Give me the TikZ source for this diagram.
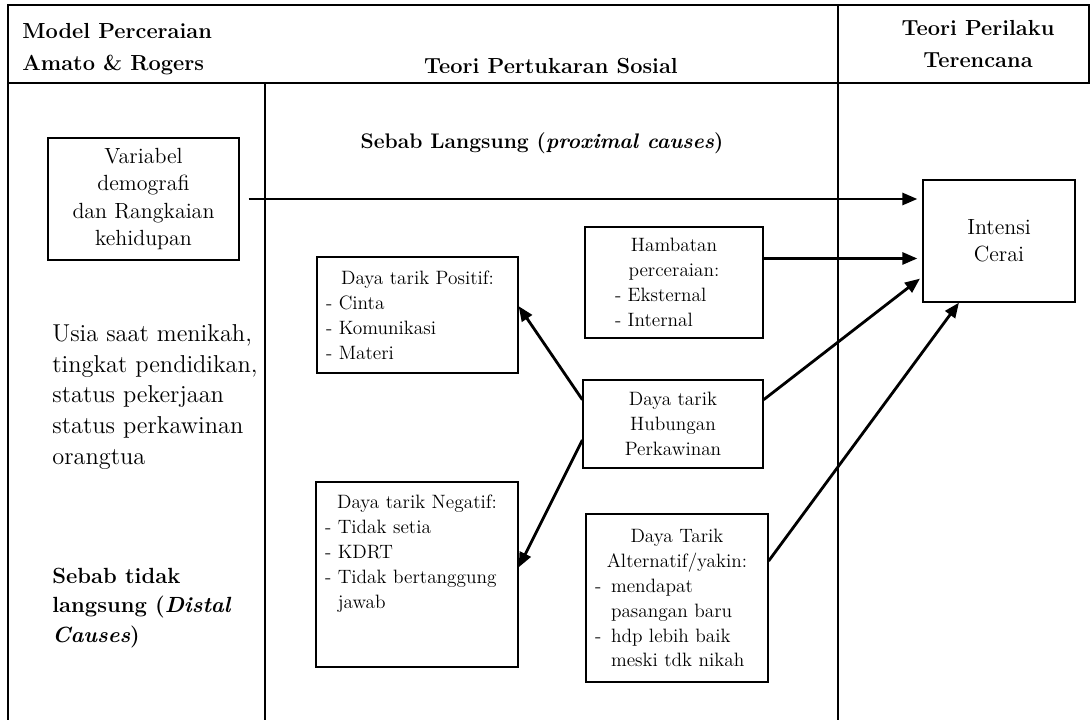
\documentclass[tikz,border=0pt]{standalone}
\usepackage{tikz}
\usetikzlibrary{arrows.meta, positioning}

\newcommand{\ctrline}[1]{\hskip0pt plus1filll #1\hskip0pt plus1filll\null}

\begin{document}
\begin{tikzpicture}[
  x=0.02cm, y=-0.02cm,
  box/.style={draw, line width=0.75pt, inner sep=0pt, align=center,
              font=\fontsize{11}{14.2}\selectfont},
  bigbox/.style={box, font=\fontsize{12.5}{15.5}\selectfont},
  listbox/.style={box, align=left},
  head/.style={font=\fontsize{12.4}{18.5}\selectfont\bfseries, inner sep=0pt},
  note/.style={anchor=west, align=left, inner sep=0pt},
  frame/.style={line width=1.1pt},
  divider/.style={line width=1.7pt},
  arr/.style={-{Triangle[length=3mm, width=2.4mm]}, line width=1.6pt}
]
  \useasboundingbox (0,0) rectangle (1090,720);

  % table lines
  \draw[frame] (8,5) rectangle (1089,83);
  \draw[divider] (8,83) -- (8,720);
  \draw[divider] (265,83) -- (265,720);
  \draw[divider] (838,5) -- (838,720);

  % column heads
  \node[head, anchor=west, align=left] (hdamato) at (22,49) {Model Perceraian\\Amato \& Rogers};
  \node[head] (hdsosial) at (551,66) {Teori Pertukaran Sosial};
  \node[head, align=center] (hdtpb) at (978,44) {Teori Perilaku\\Terencana};

  % left column
  \node[bigbox, minimum width=3.82cm, minimum height=2.44cm]
    (demo) at (143.5,199) {Variabel\\demografi\\dan Rangkaian\\kehidupan};
  \node[note, font=\fontsize{13.9}{17.5}\selectfont] (usia) at (52,397)
    {Usia saat menikah,\\tingkat pendidikan,\\status pekerjaan\\status perkawinan\\orangtua};
  \node[note, font=\fontsize{12.5}{17}\selectfont\bfseries] (distal) at (52,608)
    {Sebab tidak\\langsung (\textit{Distal}\\\textit{Causes})};

  % middle column
  \node[font=\fontsize{12}{17}\selectfont\bfseries, inner sep=0pt] (proximal) at (542,143)
    {Sebab Langsung (\textit{proximal causes})};
  \node[listbox, text width=3.2cm, minimum width=3.56cm, minimum height=2.22cm] (hambatan) at (674,282.5)
    {\ctrline{Hambatan}\\\ctrline{perceraian:}\\\hspace*{0.42cm}- Eksternal\\\hspace*{0.42cm}- Internal};
  \node[listbox, text width=3.66cm, minimum width=4.02cm, minimum height=2.32cm] (positif) at (417.5,315)
    {\ctrline{Daya tarik Positif:}\\- Cinta\\- Komunikasi\\- Materi};
  \node[box, minimum width=3.6cm, minimum height=1.76cm] (hubungan) at (673,424)
    {Daya tarik\\Hubungan\\Perkawinan};
  \node[listbox, text width=3.68cm, minimum width=4.04cm, minimum height=3.7cm] (negatif) at (417,574.5)
    {\ctrline{Daya tarik Negatif:}\\- Tidak setia\\- KDRT\\- Tidak bertanggung\\\hphantom{-\ }jawab\rule[-0.9cm]{0pt}{0.9cm}};
  \node[listbox, text width=3.28cm, minimum width=3.64cm, minimum height=3.36cm] (alternatif) at (677,598)
    {\ctrline{Daya Tarik}\\\ctrline{Alternatif/yakin:}\\\makebox[0.32cm][l]{-}mendapat\\\hspace*{0.32cm}pasangan baru\\\makebox[0.32cm][l]{-}hdp lebih baik\\\hspace*{0.32cm}meski tdk nikah};

  % right column
  \node[bigbox, minimum width=3.04cm, minimum height=2.44cm]
    (intensi) at (999,241) {Intensi\\Cerai};

  % connectors
  \draw[arr, shorten <=0.18cm, shorten >=0.1cm] (demo.east) -- (demo.east -| intensi.west);
  \draw[arr, shorten >=0.1cm] (hambatan.15) -- (hambatan.15 -| intensi.west);
  \draw[arr] (hubungan.165) -- (positif.5);
  \draw[arr] (hubungan.190) -- (negatif.4);
  \draw[arr, shorten >=0.06cm] (hubungan.15) -- (intensi.205);
  \draw[arr] (alternatif.22) -- (intensi.237);
\end{tikzpicture}
\end{document}
